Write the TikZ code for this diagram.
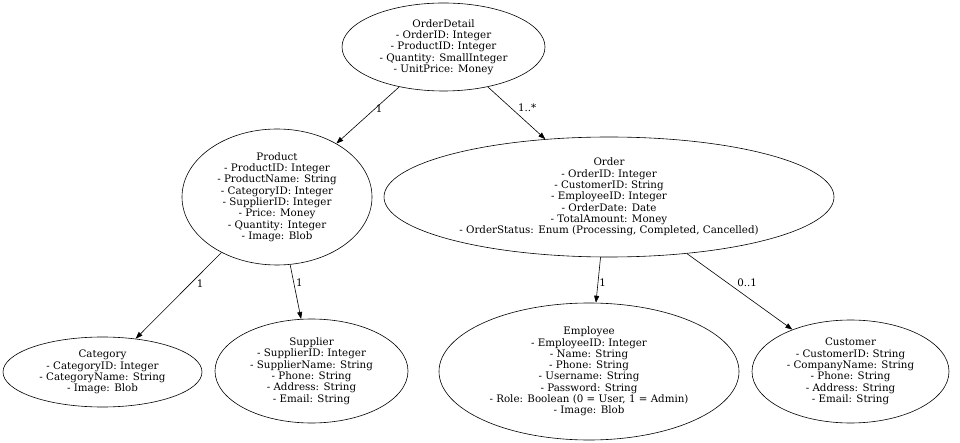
\documentclass[tikz,border=0pt]{standalone}
\usepackage{fontspec}
\setmainfont{DejaVu Serif}
\usepackage{tikz}
\usetikzlibrary{shapes,arrows.meta,positioning}

\begin{document}
\begin{tikzpicture}[x=1pt, y=-1pt, >={Triangle[length=7pt,width=5pt]}, line width=0.6pt,
  entity/.style={draw, ellipse, inner sep=0pt, align=center, font=\fontsize{10.3pt}{11.3pt}\selectfont},
  mult/.style={font=\fontsize{10.3pt}{11.3pt}\selectfont, anchor=west, inner sep=1pt}]
\useasboundingbox (0,0) rectangle (960,443);

\node (orderdetail) [entity, minimum width=203, minimum height=88] at (443.5,47) {OrderDetail\\- OrderID: Integer\\- ProductID: Integer\\- Quantity: SmallInteger\\- UnitPrice: Money};
\node (product) [entity, minimum width=190, minimum height=136] at (277,197) {Product\\- ProductID: Integer\\- ProductName: String\\- CategoryID: Integer\\- SupplierID: Integer\\- Price: Money\\- Quantity: Integer\\- Image: Blob};
\node (order) [entity, minimum width=450, minimum height=120] at (609,197) {Order\\- OrderID: Integer\\- CustomerID: String\\- EmployeeID: Integer\\- OrderDate: Date\\- TotalAmount: Money\\- OrderStatus: Enum (Processing, Completed, Cancelled)};
\node (category) [entity, minimum width=199, minimum height=70] at (102.5,372) {Category\\- CategoryID: Integer\\- CategoryName: String\\- Image: Blob};
\node (supplier) [entity, minimum width=193, minimum height=104] at (311.5,371) {Supplier\\- SupplierID: Integer\\- SupplierName: String\\- Phone: String\\- Address: String\\- Email: String};
\node (employee) [entity, minimum width=300, minimum height=137] at (589,371.5) {Employee\\- EmployeeID: Integer\\- Name: String\\- Phone: String\\- Username: String\\- Password: String\\- Role: Boolean (0 = User, 1 = Admin)\\- Image: Blob};
\node (customer) [entity, minimum width=197, minimum height=103] at (850.5,371.5) {Customer\\- CustomerID: String\\- CompanyName: String\\- Phone: String\\- Address: String\\- Email: String};

\draw[->] (orderdetail.222) -- (product) node[mult, pos=.39] {1};
\draw[->] (orderdetail.318) -- (order) node[mult, pos=.4, xshift=6pt] {1..*};
\draw[->] (product.225) -- (category) node[mult, pos=.36, xshift=5pt] {1};
\draw[->] (product.281) -- (supplier) node[mult, pos=.33, xshift=1pt] {1};
\draw[->] (order.262) -- (employee) node[mult, pos=.56] {1};
\draw[->] (order.324) -- (customer) node[mult, pos=.39, xshift=8pt] {0..1};
\end{tikzpicture}
\end{document}
